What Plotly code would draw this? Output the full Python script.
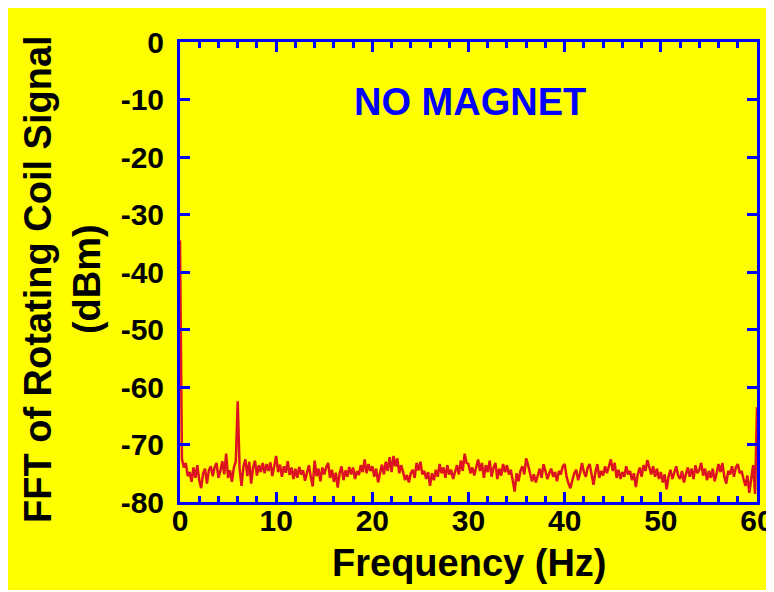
import plotly.graph_objects as go

# ---- data ----
freq_step_hz = 0.2
fft_dbm = [
    # 0.0 - 4.8 Hz
    -34.5, -72.5, -74.0, -73.2, -75.5, -74.8, -76.5, -74.0, -75.8, -73.6, -76.2, -77.6, -75.0,
    -74.2, -76.8, -74.5, -73.8, -75.5, -74.0, -73.2, -75.8, -74.6, -72.9, -75.2, -71.6,
    # 5.0 - 9.8 Hz
    -75.8, -74.5, -76.5, -74.0, -73.0, -62.5, -74.2, -77.2, -73.8, -72.6, -75.5, -73.0, -76.8,
    -74.0, -72.8, -75.4, -73.6, -74.8, -73.2, -75.0, -73.4, -74.6, -73.1, -75.5, -73.7,
    # 10.0 - 14.8 Hz
    -72.0, -74.8, -73.5, -75.6, -73.8, -74.9, -72.9, -75.3, -74.0, -76.0, -74.2, -75.8, -73.9,
    -75.2, -74.5, -76.3, -74.8, -73.6, -75.6, -77.3, -72.8, -75.5, -74.2, -76.4, -74.0,
    # 15.0 - 19.8 Hz
    -75.2, -74.0, -73.2, -75.8, -74.4, -76.5, -74.9, -77.5, -75.0, -73.8, -76.2, -74.5, -75.6,
    -73.9, -75.2, -74.0, -76.0, -74.6, -75.3, -73.6, -74.8, -72.6, -75.0, -73.4, -74.6,
    # 20.0 - 24.8 Hz
    -73.8, -75.6, -74.2, -76.6, -75.0, -73.5, -75.2, -73.0, -74.6, -72.2, -74.8, -72.0, -73.8,
    -72.4, -75.0, -73.6, -74.8, -76.2, -75.3, -76.6, -75.0, -74.4, -75.8, -73.2, -74.5,
    # 25.0 - 29.8 Hz
    -73.0, -75.2, -74.6, -76.0, -74.8, -77.2, -75.0, -76.2, -74.4, -75.6, -73.4, -75.0, -74.0,
    -75.8, -73.6, -75.2, -74.4, -76.0, -74.8, -73.6, -75.2, -72.8, -74.6, -71.6, -73.2,
    # 30.0 - 34.8 Hz
    -73.4, -75.0, -74.0, -75.4, -73.8, -72.6, -74.6, -73.2, -75.8, -73.6, -74.8, -72.8, -75.6,
    -74.0, -73.2, -76.0, -74.2, -75.4, -73.4, -74.8, -73.6, -75.2, -74.4, -76.6, -78.2,
    # 35.0 - 39.8 Hz
    -75.0, -76.4, -74.6, -73.8, -75.2, -72.4, -73.6, -75.0, -76.4, -75.2, -76.6, -75.4, -74.2,
    -75.8, -73.4, -74.6, -76.0, -75.0, -74.2, -75.6, -74.8, -76.4, -74.6, -75.2, -73.8,
    # 40.0 - 44.8 Hz
    -73.4, -75.6, -76.8, -77.6, -76.2, -75.0, -74.4, -76.2, -75.0, -73.2, -74.8, -75.6, -74.0,
    -73.4, -75.2, -77.0, -74.8, -73.4, -75.8, -74.6, -75.4, -73.8, -75.0, -74.0, -72.6,
    # 45.0 - 49.8 Hz
    -74.6, -73.2, -75.8, -74.4, -76.0, -74.8, -75.6, -73.8, -75.2, -74.6, -76.2, -75.0, -77.4,
    -75.2, -74.0, -75.6, -73.6, -74.6, -72.7, -74.0, -75.2, -73.8, -75.6, -74.2, -76.0,
    # 50.0 - 54.8 Hz
    -74.8, -76.6, -75.2, -77.8, -75.6, -74.4, -76.0, -74.8, -73.8, -75.4, -76.0, -74.6, -76.6,
    -75.2, -74.0, -75.6, -74.2, -76.0, -73.6, -75.0, -74.4, -73.2, -75.4, -74.2, -76.2,
    # 55.0 - 59.8 Hz
    -74.6, -75.8, -74.2, -76.4, -75.0, -73.4, -74.8, -73.2, -75.6, -76.8, -74.6, -75.2, -73.8,
    -75.6, -74.0, -73.4, -75.0, -74.6, -76.0, -77.2, -75.4, -78.4, -76.0, -73.6, -78.6,
    # 60.0 Hz
    -63.5,
]
freq_hz = [round(i * freq_step_hz, 1) for i in range(len(fft_dbm))]

x_ticks = [0, 10, 20, 30, 40, 50, 60]
y_ticks = [0, -10, -20, -30, -40, -50, -60, -70, -80]

x_title = "Frequency (Hz)"
y_title = "FFT of Rotating Coil Signal<br>(dBm)"
note_text = "NO MAGNET"

# ---- style ----
YELLOW = "#ffff00"
BLUE = "#0000ff"
RED = "#dc1420"
FONT = "Liberation Sans, Arial, Helvetica, sans-serif"

# page body adds an 8px margin; the figure fills the rest of the window
W, H = 766, 582
ML, MR, MT, MB = 172, 17, 34, 88
PW, PH = W - ML - MR, H - MT - MB

def px_to_paper_x(px):
    return (px - ML) / PW

def px_to_paper_y(py):
    return (H - MB - py) / PH

fig = go.Figure()
fig.add_trace(go.Scatter(
    x=freq_hz, y=fft_dbm, mode="lines",
    line=dict(color=RED, width=2.5),
    hoverinfo="x+y", showlegend=False,
))

axis_common = dict(
    showline=True, linecolor=BLUE, linewidth=3, mirror="ticks",
    ticks="inside", tickcolor=BLUE, tickwidth=3, ticklen=10,
    showgrid=False, zeroline=False, automargin=False,
    tickfont=dict(family=FONT, size=30, color="black", weight="bold"),
)

fig.update_xaxes(range=[0, 60], tickvals=x_ticks, ticktext=[str(v) for v in x_ticks],
                 ticklabelstandoff=-10, ticklabeloverflow="allow",
                 minor=dict(ticks="inside", dtick=2, ticklen=6, tickwidth=3, tickcolor=BLUE),
                 **axis_common)
fig.update_yaxes(range=[-80, 0], tickvals=y_ticks, ticktext=[str(v) for v in y_ticks],
                 ticklabelstandoff=7,
                 **axis_common)

fig.update_layout(
    autosize=False,
    width=W, height=H,
    margin=dict(l=ML, r=MR, t=MT, b=MB, pad=0),
    paper_bgcolor=YELLOW, plot_bgcolor=YELLOW,
    font=dict(family=FONT, color="black"),
    annotations=[
        dict(text=x_title, xref="paper", yref="paper",
             x=px_to_paper_x(461), y=px_to_paper_y(555),
             xanchor="center", yanchor="middle", showarrow=False,
             font=dict(family=FONT, size=38, color="black", weight="bold")),
        dict(text=y_title, xref="paper", yref="paper",
             x=px_to_paper_x(54), y=px_to_paper_y(271),
             xanchor="center", yanchor="middle", showarrow=False, textangle=-90,
             font=dict(family=FONT, size=38, color="black", weight="bold")),
        dict(text=note_text, xref="x", yref="y", x=30.2, y=-10.4,
             xanchor="center", yanchor="middle", showarrow=False,
             font=dict(family=FONT, size=38, color=BLUE, weight="bold")),
    ],
)

# hide page scrollbars so the whole figure width is visible in the window
fig.write_html(
    "out.html",
    post_script="document.documentElement.style.overflow='hidden';"
                "document.body.style.overflow='hidden';",
)
